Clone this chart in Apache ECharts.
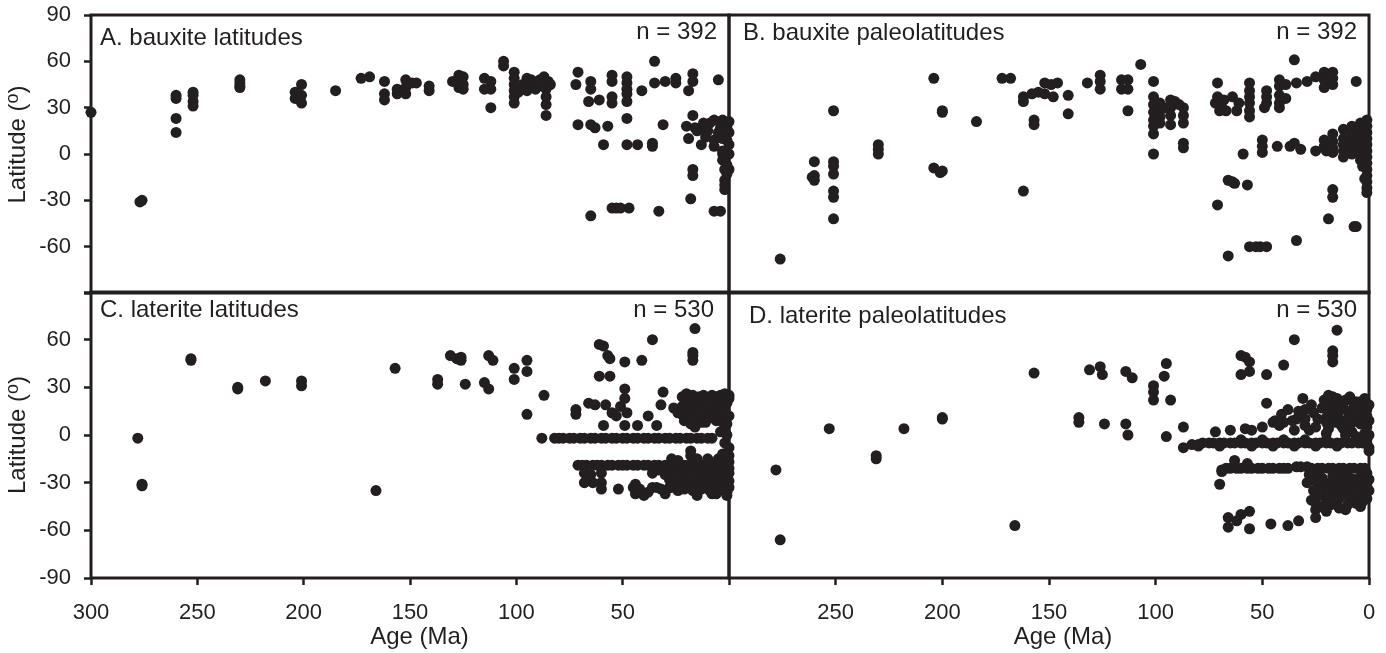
<!DOCTYPE html>
<html>
<head>
<meta charset="utf-8">
<script src="https://cdn.jsdelivr.net/npm/echarts@6/dist/echarts.min.js"></script>
<style>
html,body{margin:0;padding:0;background:#fff;}
#chart{width:1386px;height:653px;}
</style>
</head>
<body>
<div id="chart"></div>
<script>
// ---- tick values ----
const ageTicksBottomLeft = [300, 250, 200, 150, 100, 50];
const ageTicksBottomRight = [250, 200, 150, 100, 50, 0];
const latLabelsTop = [90, 60, 30, 0, -30, -60];
const latLabelsBottom = [60, 30, 0, -30, -60, -90];

// ---- panel texts ----
const panelTitles = ['A. bauxite latitudes', 'B. bauxite paleolatitudes', 'C. laterite latitudes', 'D. laterite paleolatitudes'];
const panelCounts = ['n = 392', 'n = 392', 'n = 530', 'n = 530'];

// ---- data: [age (Ma), latitude (deg)] ----
const bauxiteLatitudes = [
  [300,27],[276,-30],[277,-31],
  [260,38],[260,36],[260,23],[260,14],
  [252,40],[252,38],[252,34],[252,31],
  [230,48],[230,46],[230,44],[230,43],
  [201,45],[204,40],[201,38],[204,36],[201,33],[203,39],
  [185,41],[173,49],[169,50],
  [162,47],[162,39],[162,35],[156,42],[156,39],
  [152,48],[152,43],[152,39],[147,46],[149,46],
  [141,44],[141,41],[130,47],[127,51],[127,47],[127,43],
  [125,50],[125,45],[125,42],
  [115,49],[112,47],[112,42],[115,42],[112,30],
  [106,60],[106,57],
  [101,53],[101,49],[101,45],[101,41],[101,37],[101,33],[99,44],[99,40],
  [97,45],[95,49],[93,48],[91,42],[89,48],[86,45],[84,45],[86,37],[86,32],[86,25],
  [87,50],[86,42],[85,47],[88,44],[93,44],[95,41],[90,45],
  [71,53],[72,45],[65,47],[65,42],[55,51],[55,47],
  [48,50],[48,46],[48,42],[48,39],
  [66,34],[61,35],[55,37],[55,33],[48,34],
  [71,19],[65,19],[63,17],[57,18],[48,23],
  [41,41],[35,46],[30,47],[25,49],[25,46],[17,52],[17,47],[19,41],
  [35,60],[5,48],[31,19],
  [59,6],[48,6],[43,6],[36,7],[36,5],
  [65,-40],[55,-35],[53,-35],[51,-35],[47,-35],[33,-37],[18,-29],[7,-37],[4,-37],
  [17,-10],[17,-14],
  [17,25],[20,18],[19,10],[16,17],[13,17],[7,22],[3,22],[1,17],
  [11,11],[7,9],[3,10],[1,9],[13,6],[7,5],[3,0],[0,0],[3,-4],
  [2,-10],[0,-10],[2,-17],[2,-23],[10,15],[5,14],[15,15],[9,20],[12,20],
  [4,17],[0,21],[0,6],[3,2],[1,-7],[2,-20],[0,14],[1,-13]
];

const bauxitePaleolatitudes = [
  [276,-68],
  [260,-5],[260,-14],[260,-17],[261,-15],
  [251,28],[251,-5],[251,-8],[251,-13],[251,-24],[251,-28],[251,-42],
  [230,6],[230,3],[230,0],
  [204,49],[200,28],[200,27],[204,-9],[200,-11],[201,-12],
  [184,21],[172,49],[168,49],
  [162,37],[162,34],[157,19],[157,22],[152,39],[152,46],[148,37],[146,46],[149,45],[158,39],[155,40],
  [162,-24],
  [141,38],[141,26],
  [132,46],[126,51],[126,47],[126,42],
  [116,48],[113,48],[116,42],[113,42],[113,28],
  [107,58],
  [101,47],[101,37],[101,32],[101,27],[101,22],[101,18],[101,13],[101,0],
  [98,33],[98,28],[98,24],[98,20],[96,30],
  [93,35],[93,30],[93,25],[93,19],[91,34],
  [87,30],[87,25],[87,20],[87,7],[87,4],[89,32],
  [71,46],[71,37],[72,33],[69,30],[68,35],[67,28],[70,28],
  [64,37],[61,33],[62,28],
  [56,46],[56,41],[56,37],[56,33],[56,28],[56,24],
  [48,41],[48,37],[48,33],[49,30],
  [42,48],[42,44],[42,38],[42,33],[42,30],
  [39,45],[39,36],
  [34,46],[29,47],[25,50],[21,53],[21,48],[21,43],[17,53],[17,49],[17,45],
  [6,47],[35,61],[59,0],
  [50,9],[50,5],[50,1],[43,5],[37,5],[35,7],[32,3],[25,2],
  [21,9],[21,5],[20,2],[17,13],[17,8],[17,4],[17,1],
  [12,16],[12,10],[12,6],[12,2],[12,-2],
  [8,18],[8,13],[8,9],[8,5],[8,0],
  [4,20],[4,16],[4,12],[4,8],[4,4],[4,0],[4,-4],
  [1,22],[1,18],[1,14],[1,10],[1,6],[1,2],[1,-2],[1,-6],[1,-10],[1,-14],[1,-18],[1,-22],[1,-25],
  [3,-8],[2,-16],
  [66,-17],[63,-19],[57,-20],[64,-18],
  [71,-33],[17,-23],[17,-28],[19,-42],[7,-47],[6,-47],
  [56,-60],[53,-60],[48,-60],[51,-60],
  [66,-66],[34,-56]
];

const lateriteLatitudes = [
  [278,-2],[276,-31],[276,-32],
  [253,48],[253,47],[231,30],[231,29],[218,34],[201,34],[201,31],
  [166,-35],[157,42],[137,35],[137,32],[131,50],[128,48],
  [126,49],[126,47],[124,32],[113,50],[111,47],[115,33],[113,29],
  [101,42],[101,35],[95,47],[95,40],[87,25],[95,13],[88,-2],
  [61,57],[59,56],[57,50],[56,48],[49,46],[41,47],[36,60],[16,67],[17,52],[17,47],[17,50],
  [61,37],[56,37],[49,29],[49,23],
  [72,16],[66,20],[63,19],[72,13],[58,19],[55,14],[51,18],[53,12],[48,14],
  [59,6],[49,6],[43,6],[38,12],[34,6],[31,27],[32,19],[26,17],[20,21],[17,25],
  [17,16],[12,12],[10,22],[7,18],[3,22],[6,9],[20,12],[24,14],[14,20],
  [2,16],[2,10],[2,5],[0,23],[0,12],[5,14],[9,15],[13,8],[16,5],[4,2],[1,0],
  [22,24],[20,26],[18,23],[16,21],[14,24],[12,25],[10,23],[8,25],[6,24],[4,25],[2,26],[0,25],
  [22,18],[19,17],[15,19],[11,18],[8,20],[5,19],[1,20],
  [21,9],[18,7],[15,10],[11,8],[9,11],[7,13],[4,9],[1,7],[3,15],[13,14],[17,12],[22,13],
  [82,-2],[80,-2],[78,-2],[75,-2],[73,-2],[70,-2],[68,-2],[65,-2],[63,-2],[60,-2],
  [58,-2],[55,-2],[53,-2],[50,-2],[48,-2],[45,-2],[43,-2],[40,-2],[38,-2],[35,-2],
  [33,-2],[30,-2],[28,-2],[25,-2],[23,-2],[20,-2],[18,-2],[15,-2],[13,-2],[10,-2],[8,-2],
  [2,-5],[0,-8],[0,-13],[18,-10],[18,-13],[3,-12],
  [71,-19],[69,-19],[67,-19],[64,-19],[62,-19],[60,-19],[57,-19],[55,-19],[52,-19],[50,-19],
  [48,-19],[45,-19],[43,-19],[40,-19],[38,-19],
  [35,-19],[33,-19],[30,-19],[28,-19],[26,-19],[23,-19],[21,-19],[19,-19],[16,-19],
  [14,-19],[12,-19],[9,-19],[7,-19],[5,-19],[3,-19],[1,-19],
  [68,-24],[65,-25],[60,-24],[68,-30],[64,-30],[60,-30],[60,-34],[52,-34],
  [44,-31],[44,-37],[40,-38],[38,-36],[34,-33],[30,-37],[27,-33],[25,-30],
  [22,-27],[20,-25],[18,-22],[18,-29],[16,-33],[15,-38],[13,-24],[11,-27],
  [10,-33],[8,-22],[6,-25],[6,-30],[5,-35],[3,-22],[3,-27],[2,-32],[1,-36],
  [0,-24],[0,-29],[1,-38],[8,-37],[12,-30],[14,-22],[20,-31],[24,-22],[26,-24],
  [30,-25],[33,-22],[36,-24],
  [30,-22],[28,-28],[25,-26],[23,-23],[21,-30],[19,-26],[17,-24],[15,-29],[13,-27],
  [11,-23],[9,-29],[7,-25],[5,-28],[3,-25],[1,-27],[0,-33],
  [28,-33],[24,-35],[21,-34],[17,-35],[13,-34],[9,-35],[6,-37],[3,-34],
  [27,-15],[24,-16],[15,-15],[10,-15],[5,-15],[2,-14],[0,-17],[0,-21],
  [45,-33],[42,-34],[36,-33],[32,-34]
];

const lateritePaleolatitudes = [
  [278,-22],[276,-66],[253,4],[231,-13],[231,-15],[218,4],[200,11],[200,10],
  [166,-57],[157,39],
  [131,41],[126,43],[125,38],[136,11],[136,8],[124,7],[114,40],[111,36],[114,7],[113,0],
  [101,31],[101,27],[101,22],[95,45],[96,37],[93,22],[95,-1],
  [87,5],[87,-8],[80,-7],[72,2],
  [60,50],[58,49],[60,38],[56,40],[56,46],[48,38],[40,44],[35,60],[15,66],[17,53],[17,46],[17,50],
  [48,20],[31,23],[17,24],[33,15],[36,9],[26,14],[22,17],[45,8],[50,5],[55,3],[58,4],
  [40,8],[30,10],[20,11],[12,20],[10,15],[7,18],[4,21],[2,23],[1,16],[2,10],[5,12],
  [8,8],[13,6],[16,12],[19,4],[25,5],[28,3],[35,3],[1,5],[0,0],[1,-3],[0,-8],
  [3,18],[6,21],[14,15],[65,3],
  [21,22],[19,25],[17,20],[15,23],[13,18],[11,22],[9,24],[7,20],[5,17],[3,14],[1,12],[0,19],
  [20,8],[18,13],[16,8],[14,10],[12,4],[10,10],[8,2],[6,13],[4,7],[2,1],[0,9],[20,1],
  [11,0],[6,-1],[1,-5],[0,-10],[18,17],[9,6],
  [44,9],[41,13],[38,16],[34,10],[30,16],[27,19],[24,10],[42,6],[30,6],
  [83,-6],[80,-6],[78,-5],[75,-5],[73,-5],[70,-5],[68,-5],[65,-5],[63,-5],[60,-5],
  [58,-5],[55,-5],[53,-5],[50,-5],[48,-5],[45,-5],[43,-5],[40,-5],[38,-5],[35,-5],
  [33,-5],[30,-5],[28,-5],[25,-5],[23,-5],[20,-5],[18,-5],[15,-5],[13,-5],[10,-5],
  [8,-5],[5,-5],[3,-5],
  [60,-3],[50,-3],[40,-3],[30,-3],[20,-3],[15,-7],[25,-7],[35,-7],[45,-7],[55,-7],[70,-7],
  [69,-22],[67,-21],[65,-21],[62,-21],[60,-21],[57,-21],[55,-21],[52,-21],[50,-21],
  [47,-21],[45,-21],[42,-21],[40,-21],[38,-21],
  [34,-20],[32,-20],[29,-20],[27,-21],[24,-21],[22,-21],[19,-21],[17,-21],[14,-21],
  [12,-21],[9,-21],[7,-21],[4,-21],[2,-21],[63,-16],[57,-18],[69,-23],
  [70,-31],
  [29,-30],[26,-28],[24,-32],[22,-27],[20,-34],[18,-30],[16,-36],[15,-27],[13,-32],
  [12,-26],[10,-30],[9,-36],[7,-28],[6,-33],[4,-26],[3,-30],[2,-35],[1,-24],[0,-28],
  [20,-40],[18,-44],[15,-42],[13,-38],[8,-40],[6,-43],[3,-38],[27,-41],[25,-47],
  [20,-48],[22,-45],[10,-44],[4,-45],[1,-32],
  [28,-25],[26,-35],[24,-25],[23,-38],[21,-30],[19,-37],[17,-26],[16,-32],[14,-40],
  [12,-34],[11,-38],[9,-27],[8,-32],[6,-37],[5,-29],[3,-42],[2,-27],[1,-40],[0,-35],
  [14,-46],[17,-41],[11,-47],[25,-43],[23,-29],
  [66,-52],[66,-58],[60,-50],[56,-48],[56,-59],[46,-56],[38,-57],[33,-54],[25,-52],[62,-54]
];

// ---- styling ----
const FONT = '"Liberation Sans", Arial, Helvetica, sans-serif';
const INK = '#231f20';
const tickStyle = { show: true, inside: false, length: 7, lineStyle: { color: INK, width: 2.5 } };

const grids = [
  { left: 91, top: 15, width: 638, height: 278 },
  { left: 729, top: 15, width: 640, height: 278 },
  { left: 91, top: 292, width: 638, height: 286 },
  { left: 729, top: 292, width: 640, height: 286 }
].map(g => Object.assign(g, { show: true, borderColor: INK, borderWidth: 3, backgroundColor: 'transparent' }));

function xAxisFor(i) {
  const bottom = i >= 2;
  const labelSet = i === 2 ? ageTicksBottomLeft : ageTicksBottomRight;
  const ax = {
    type: 'value', gridIndex: i, min: 0, max: 300, interval: 50, inverse: true,
    position: 'bottom',
    splitLine: { show: false }, axisLine: { show: false, onZero: false },
    axisTick: bottom ? tickStyle : { show: false },
    axisLabel: bottom ? {
      show: true, margin: 24, fontSize: 22, fontFamily: FONT, color: INK,
      formatter: v => (labelSet.indexOf(v) >= 0 ? String(v) : '')
    } : { show: false }
  };
  if (bottom) {
    ax.name = 'Age (Ma)';
    ax.nameLocation = 'middle';
    ax.nameGap = 47;
    ax.nameTextStyle = { fontSize: 24, fontFamily: FONT, color: INK, padding: [0, 0, 0, i === 2 ? 19 : 28] };
  }
  return ax;
}

function yAxisFor(i) {
  const left = i === 0 || i === 2;
  const labelSet = i === 0 ? latLabelsTop : latLabelsBottom;
  const ax = {
    type: 'value', gridIndex: i, min: -90, max: 90, interval: 30,
    position: 'left',
    splitLine: { show: false }, axisLine: { show: false, onZero: false },
    axisTick: left ? tickStyle : { show: false },
    axisLabel: left ? {
      show: true, margin: 20, fontSize: 22, fontFamily: FONT, color: INK,
      formatter: v => (labelSet.indexOf(v) >= 0 ? String(v) : '')
    } : { show: false }
  };
  if (left) {
    ax.name = 'Latitude ({sup|o})';
    ax.nameLocation = 'middle';
    ax.nameGap = 58;
    ax.nameTextStyle = {
      fontSize: 24, fontFamily: FONT, color: INK,
      padding: i === 0 ? [0, 0, 0, 19] : 0,
      rich: { sup: { fontSize: 18, fontFamily: FONT, color: INK, padding: [0, 0, 11, 0] } }
    };
  }
  return ax;
}

const titleStyle = { fontSize: 24, fontWeight: 'normal', fontFamily: FONT, color: INK };
const titles = [
  { text: panelTitles[0], left: 100, top: 26 },
  { text: panelTitles[1], left: 743, top: 21 },
  { text: panelTitles[2], left: 100, top: 298 },
  { text: panelTitles[3], left: 749, top: 304 },
  { text: panelCounts[0], right: 669, top: 20 },
  { text: panelCounts[1], right: 29, top: 20 },
  { text: panelCounts[2], right: 672, top: 298 },
  { text: panelCounts[3], right: 29, top: 298 }
].map(t => Object.assign(t, { padding: 0, textStyle: titleStyle }));

const datasets = [bauxiteLatitudes, bauxitePaleolatitudes, lateriteLatitudes, lateritePaleolatitudes];

const chart = echarts.init(document.getElementById('chart'), null, { renderer: 'canvas' });
chart.setOption({
  animation: false,
  backgroundColor: '#ffffff',
  title: titles,
  grid: grids,
  xAxis: [0, 1, 2, 3].map(xAxisFor),
  yAxis: [0, 1, 2, 3].map(yAxisFor),
  series: datasets.map((d, i) => ({
    type: 'scatter', xAxisIndex: i, yAxisIndex: i, data: d,
    symbol: 'circle', symbolSize: 11,
    itemStyle: { color: INK, opacity: 1 },
    emphasis: { disabled: true }
  }))
});
</script>
</body>
</html>
